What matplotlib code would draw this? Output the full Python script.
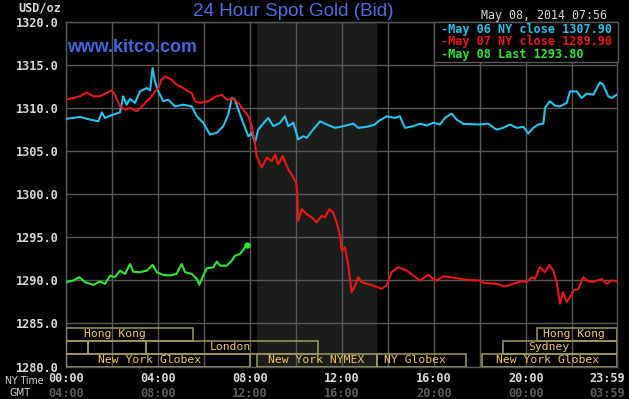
import matplotlib
matplotlib.use("Agg")
import matplotlib.pyplot as plt
from matplotlib.patches import Rectangle
import matplotlib.transforms as mtransforms

# ---------------- data ----------------
may06_hours = [0.0, 0.62, 1.06, 1.42, 1.57, 1.71, 2.06, 2.36, 2.5, 2.65, 2.8, 3.01, 3.23, 3.52, 3.67,
               3.78, 3.88, 4.03, 4.24, 4.46, 4.75, 5.11, 5.48, 5.7, 5.98, 6.27, 6.57, 6.85, 7.07, 7.22,
               7.36, 7.58, 7.8, 7.94, 8.09, 8.23, 8.37, 8.67, 8.81, 9.03, 9.32, 9.53, 9.68, 9.9, 10.11,
               10.33, 10.48, 10.7, 11.06, 11.35, 11.71, 12.07, 12.5, 12.72, 13.09, 13.45, 13.59, 13.96,
               14.32, 14.53, 14.75, 15.11, 15.4, 15.7, 15.98, 16.27, 16.49, 16.78, 17.0, 17.29, 18.01,
               18.37, 18.73, 19.02, 19.32, 19.61, 19.9, 20.11, 20.33, 20.55, 20.77, 20.84, 21.05, 21.27,
               21.49, 21.78, 21.93, 22.22, 22.43, 22.65, 22.94, 23.23, 23.37, 23.59, 23.74, 23.96]
may06_price = [1308.75, 1308.98, 1308.67, 1308.47, 1309.5, 1308.86, 1309.25, 1309.5, 1311.37, 1310.4,
               1311.06, 1310.6, 1311.94, 1312.33, 1312.06, 1314.65, 1313.1, 1311.94, 1310.8, 1310.98,
               1310.2, 1310.4, 1310.2, 1309.05, 1308.3, 1306.94, 1307.13, 1307.9, 1309.25, 1311.18,
               1310.98, 1309.25, 1307.71, 1306.74, 1307.1, 1305.98, 1307.5, 1308.47, 1308.86, 1307.9,
               1308.3, 1309.05, 1307.9, 1308.3, 1306.36, 1306.74, 1306.55, 1307.32, 1308.47, 1308.1,
               1307.71, 1307.9, 1308.2, 1307.71, 1307.83, 1308.1, 1308.47, 1309.05, 1308.86, 1309.05,
               1307.71, 1307.9, 1308.2, 1307.98, 1308.3, 1308.1, 1308.86, 1309.36, 1308.67, 1308.17,
               1308.1, 1308.2, 1307.5, 1307.71, 1308.1, 1307.71, 1307.83, 1307.05, 1307.71, 1308.1,
               1308.2, 1310.02, 1310.8, 1310.3, 1310.2, 1310.6, 1311.94, 1311.94, 1311.18, 1311.68,
               1311.56, 1312.98, 1312.72, 1311.37, 1311.18, 1311.56]

may07_hours = [0.0, 0.33, 0.62, 0.91, 1.2, 1.49, 1.78, 2.0, 2.14, 2.36,
               2.58, 2.8, 3.09, 3.3, 3.52, 3.74, 3.88, 4.03, 4.17, 4.32,
               4.61, 4.82, 5.11, 5.33, 5.48, 5.62, 5.84, 6.2, 6.49, 6.78,
               7.0, 7.29, 7.51, 7.72, 7.94, 8.09, 8.23, 8.3, 8.52, 8.74,
               8.96, 9.1, 9.24, 9.43, 9.68, 9.9, 10.02, 10.06, 10.11, 10.26,
               10.48, 10.7, 10.91, 11.13, 11.27, 11.46, 11.63, 11.78, 11.93, 12.0,
               12.14, 12.29, 12.43, 12.58, 12.72, 12.87, 13.09, 13.37, 13.74, 13.96,
               14.17, 14.46, 14.83, 15.11, 15.4, 15.77, 15.98, 16.13, 16.42, 17.0,
               17.43, 18.01, 18.16, 18.74, 19.1, 19.46, 19.83, 20.04, 20.26, 20.4,
               20.62, 20.84, 21.03, 21.2, 21.35, 21.49, 21.63, 21.78, 21.93, 22.07,
               22.29, 22.5, 22.72, 23.01, 23.3, 23.52, 23.74, 23.96]
may07_price = [1310.98, 1311.18, 1311.37, 1311.83, 1311.37, 1311.37, 1311.76, 1312.06, 1311.56, 1310.2,
               1309.83, 1310.02, 1309.63, 1310.14, 1310.8, 1311.37, 1311.94, 1312.33, 1313.3, 1313.68,
               1313.3, 1312.72, 1312.33, 1311.94, 1311.76, 1310.8, 1310.6, 1310.8, 1311.3, 1311.56,
               1310.98, 1311.06, 1310.6, 1309.83, 1309.05, 1307.9, 1305.98, 1304.43, 1303.1, 1304.24,
               1303.85, 1304.62, 1303.47, 1304.43, 1302.89, 1301.93, 1301.35, 1300.5, 1296.9, 1298.27,
               1297.69, 1297.31, 1296.73, 1297.5, 1297.31, 1298.27, 1297.88, 1296.73, 1295.18, 1293.45,
               1293.83, 1291.71, 1288.63, 1289.4, 1290.37, 1289.79, 1289.6, 1289.4, 1289.02, 1289.4,
               1290.95, 1291.53, 1291.13, 1290.56, 1289.98, 1290.64, 1290.17, 1289.98, 1290.48, 1290.25,
               1290.06, 1289.98, 1289.71, 1289.6, 1289.28, 1289.6, 1289.9, 1289.79, 1290.37, 1290.17,
               1291.53, 1290.95, 1291.8, 1291.13, 1289.79, 1287.28, 1288.63, 1287.48, 1288.06, 1288.83,
               1289.02, 1290.37, 1289.87, 1289.87, 1290.17, 1289.6, 1289.98, 1289.9]

may08_hours = [0.01, 0.33, 0.59, 0.84, 1.2, 1.49, 1.71, 1.93, 2.14, 2.36, 2.58, 2.8, 2.94, 3.23, 3.52,
               3.78, 3.96, 4.24, 4.53, 4.82, 5.04, 5.19, 5.48, 5.7, 5.81, 5.98, 6.13, 6.42, 6.57, 6.71,
               7.0, 7.22, 7.36, 7.58, 7.69, 7.87]
may08_price = [1289.79, 1289.98, 1290.37, 1289.79, 1289.48, 1289.87, 1289.6, 1290.56, 1290.37, 1291.13,
               1290.75, 1291.9, 1291.0, 1290.95, 1291.13, 1291.8, 1290.95, 1290.64, 1290.56, 1290.75,
               1291.9, 1290.95, 1290.75, 1290.17, 1289.48, 1290.56, 1291.4, 1291.53, 1292.18, 1291.71,
               1291.71, 1292.28, 1292.86, 1293.06, 1293.45, 1294.1]

legend_labels = ["May 06 NY close 1307.90", "May 07 NY close 1289.90", "May 08 Last 1293.80"]
series_colors = ["#22c3ef", "#ee1414", "#2ee82e"]

y_ticks = [1280, 1285, 1290, 1295, 1300, 1305, 1310, 1315, 1320]
x_tick_pos = [0, 4, 8, 12, 16, 20, 23.983]
ny_labels = ["00:00", "04:00", "08:00", "12:00", "16:00", "20:00", "23:59"]
gmt_labels = ["04:00", "08:00", "12:00", "16:00", "20:00", "00:00", "03:59"]

nymex_span = (8.33, 13.5)

# sessions: (row, start, end, label, label_x)
sessions = [
    (0, 0.0, 5.52, "Hong Kong", 2.13),
    (0, 20.5, 23.983, "Hong Kong", 22.08),
    (1, 0.0, 0.98, "", 0),
    (1, 0.98, 3.49, "", 0),
    (1, 3.49, 10.97, "London", 7.15),
    (1, 19.0, 23.983, "Sydney", 21.0),
    (2, 0.0, 8.0, "New York Globex", 3.63),
    (2, 8.33, 13.53, "New York NYMEX", 10.88),
    (2, 13.53, 17.4, "NY Globex", 15.2),
    (2, 18.1, 23.983, "New York Globex", 20.97),
]
row_bounds = [(1283.0, 1284.5), (1281.5, 1283.0), (1280.0, 1281.5)]

# ---------------- figure ----------------
W, H = 629, 399
fig = plt.figure(figsize=(W / 100, H / 100), dpi=100, facecolor="black")
ax = fig.add_axes([65.7 / W, 32.5 / H, (617.3 - 65.7) / W, (366.5 - 22) / H])
ax.set_facecolor("black")
ax.set_xlim(0, 23.983)
ax.set_ylim(1280, 1320)

grid_col = "#585858"
ax.axvspan(*nymex_span, color="#1b1d1b", zorder=0)
for h in range(0, 24, 2):
    ax.axvline(h, color=grid_col, lw=1.0, zorder=1)
for v in y_ticks:
    ax.axhline(v, color=grid_col, lw=1.0, zorder=1)
for s in ax.spines.values():
    s.set_color(grid_col)
    s.set_linewidth(1.0)

mono = "DejaVu Sans Mono"
ax.set_yticks(y_ticks)
ax.set_yticklabels([f"{v:.1f}" for v in y_ticks], family=mono, fontweight="bold",
                   fontsize=8.6, color="#d8d8d8")
ax.tick_params(axis="y", length=0, pad=5)
ax.set_xticks([])

# sessions
box_col = "#a09a62"
txt_col = "#f2c85a"
for row, s0, s1, lab, lx in sessions:
    y0, y1 = row_bounds[row]
    ax.add_patch(Rectangle((s0, y0), s1 - s0, y1 - y0, fill=False, ec=box_col, lw=1.1, zorder=3))
    if lab:
        ax.text(lx, (y0 + y1) / 2, lab, color=txt_col, family=mono, fontsize=8.2,
                ha="center", va="center", zorder=4)

# series
ax.plot(may06_hours, may06_price, color=series_colors[0], lw=1.5, zorder=5)
ax.plot(may07_hours, may07_price, color=series_colors[1], lw=1.5, zorder=6)
ax.plot(may08_hours, may08_price, color=series_colors[2], lw=1.5, zorder=7)
ax.plot(may08_hours[-1:], may08_price[-1:], "o", color=series_colors[2], ms=3.5, zorder=7)

# x labels
trans = ax.get_xaxis_transform()
for i, (p, a, b) in enumerate(zip(x_tick_pos, ny_labels, gmt_labels)):
    off = mtransforms.offset_copy(trans, fig=fig, x=(-10 if i == len(x_tick_pos) - 1 else 0) * 0.72,
                                  y=0, units="points")
    ax.text(p, -0.036, a, transform=off, ha="center", va="center", family=mono,
            fontweight="bold", fontsize=8.6, color="#d8d8d8", clip_on=False)
    ax.text(p, -0.078, b, transform=off, ha="center", va="center", family=mono,
            fontweight="bold", fontsize=8.6, color="#5c5c5c", clip_on=False)

fig.text(24 / W, 1 - 381 / H, "NY Time", ha="center", va="center", family="DejaVu Sans",
         fontstretch="condensed", fontsize=7.6, color="#d8d8d8")
fig.text(20 / W, 1 - 393 / H, "GMT", ha="center", va="center", family="DejaVu Sans",
         fontstretch="condensed", fontsize=7.6, color="#d8d8d8")
fig.text(40 / W, 1 - 8 / H, "USD/oz", ha="center", va="center", family=mono,
         fontsize=8.6, color="#d8d8d8", fontweight="bold")

# title and site
fig.text(293 / W, 1 - 12 / H, "24 Hour Spot Gold (Bid)", ha="center", va="center",
         family="Liberation Sans", fontsize=13.6, color="#4b6fe4")
fig.text(67 / W, 1 - 48 / H, "www.kitco.com", ha="left", va="center",
         family="Liberation Sans", fontweight="bold", fontsize=12.9, color="#4466e0")
fig.text(607 / W, 1 - 15 / H, "May 08, 2014 07:56", ha="right", va="center", family=mono,
         fontsize=8.4, color="#d8d8d8")

# legend box
ax.add_patch(Rectangle((434 / W, 1 - 62 / H), (618 - 434) / W, 40 / H, transform=fig.transFigure,
                       fc="black", ec=grid_col, lw=1.0, zorder=8, clip_on=False))
for i, (lab, c) in enumerate(zip(legend_labels, series_colors)):
    fig.text(441 / W, 1 - (29.5 + 12.3 * i) / H, "-" + lab, ha="left", va="center", family=mono,
             fontweight="bold", fontsize=8.5, color=c, zorder=9)

fig.savefig("out.png", dpi=100, facecolor="black")
